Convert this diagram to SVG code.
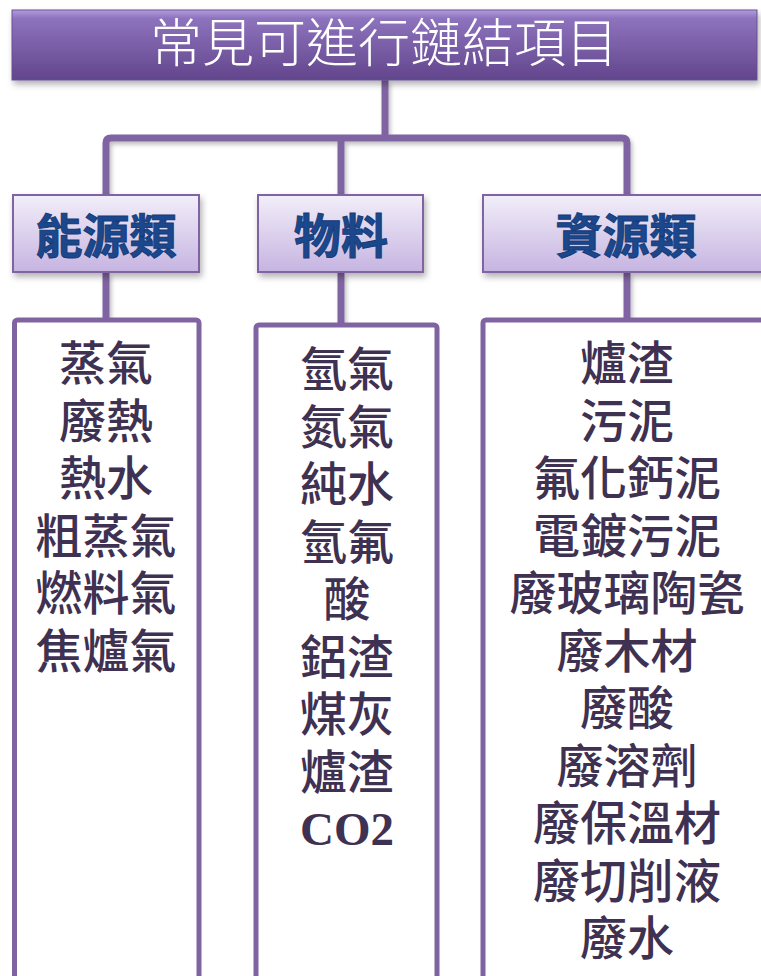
<svg xmlns="http://www.w3.org/2000/svg" width="761" height="976" viewBox="0 0 761 976">
<defs>
  <linearGradient id="gTitle" x1="0" y1="0" x2="0" y2="1">
    <stop offset="0" stop-color="#b29de0"/>
    <stop offset="0.12" stop-color="#8d73bd"/>
    <stop offset="1" stop-color="#62458c"/>
  </linearGradient>
  <linearGradient id="gCat" x1="0" y1="0" x2="0" y2="1">
    <stop offset="0" stop-color="#f2eef9"/>
    <stop offset="1" stop-color="#c6b4e1"/>
  </linearGradient>
  <filter id="sh" x="-10%" y="-10%" width="120%" height="140%">
    <feDropShadow dx="2" dy="4" stdDeviation="3" flood-color="#000" flood-opacity="0.3"/>
  </filter>
  <filter id="shl" x="-20%" y="-20%" width="140%" height="140%">
    <feDropShadow dx="2" dy="3" stdDeviation="2" flood-color="#000" flood-opacity="0.25"/>
  </filter>
</defs>
<style>
  .conn { fill: none; stroke: #8064a2; stroke-width: 7; stroke-linejoin: round; }
  .cat { fill: url(#gCat); stroke: #8064a2; stroke-width: 2; }
  .catText { font-family: "Noto Sans CJK TC", "Noto Sans CJK SC", sans-serif; font-weight: 700; font-size: 47px; fill: #1b478d; stroke: #163c78; stroke-width: 1; text-anchor: middle; }
  .box { fill: #ffffff; stroke: #8064a2; stroke-width: 5; }
  .item { font-family: "Noto Sans CJK TC", "Noto Sans CJK SC", sans-serif; font-weight: 500; font-size: 47px; fill: #3f3151; text-anchor: middle; }
  .latin { font-family: "Liberation Serif", "Times New Roman", serif; font-weight: 700; font-size: 47px; fill: #3f3151; text-anchor: middle; }
</style>

<g id="connectors" filter="url(#shl)">
  <path class="conn" d="M385,80 V138"/>
  <path class="conn" d="M106,195 V143 Q106,138 111,138 H622 Q627,138 627,143 V195"/>
  <path class="conn" d="M341,138 V195"/>
  <path class="conn" d="M106,273 V320"/>
  <path class="conn" d="M341,273 V325"/>
  <path class="conn" d="M627,273 V320"/>
</g>

<g id="title">
  <rect x="12" y="10" width="745" height="70" fill="url(#gTitle)" stroke="#6a4f96" stroke-width="1" filter="url(#sh)"/>
  <text x="384" y="62" font-family="Noto Sans CJK TC, Noto Sans CJK SC, sans-serif" font-weight="300" font-size="52" fill="#ffffff" text-anchor="middle">常見可進行鏈結項目</text>
</g>

<g id="cat-energy">
  <rect class="cat" x="13" y="195" width="186" height="77" filter="url(#sh)"/>
  <text class="catText" x="106" y="253">能源類</text>
</g>
<g id="cat-material">
  <rect class="cat" x="258" y="195" width="165" height="77" filter="url(#sh)"/>
  <text class="catText" x="341" y="253">物料</text>
</g>
<g id="cat-resource">
  <rect class="cat" x="483" y="195" width="300" height="77" filter="url(#sh)"/>
  <text class="catText" x="626" y="253">資源類</text>
</g>

<g id="list-energy">
  <rect class="box" x="14.5" y="320" width="184.5" height="700" rx="3"/>
  <text class="item" x="106" y="380">蒸氣</text>
  <text class="item" x="106" y="437.5">廢熱</text>
  <text class="item" x="106" y="495">熱水</text>
  <text class="item" x="106" y="552.5">粗蒸氣</text>
  <text class="item" x="106" y="610">燃料氣</text>
  <text class="item" x="106" y="667.5">焦爐氣</text>
</g>

<g id="list-material">
  <rect class="box" x="256" y="325" width="181" height="700" rx="3"/>
  <text class="item" x="347" y="386">氫氣</text>
  <text class="item" x="347" y="443.5">氮氣</text>
  <text class="item" x="347" y="501">純水</text>
  <text class="item" x="347" y="558.5">氫氟</text>
  <text class="item" x="347" y="616">酸</text>
  <text class="item" x="347" y="673.5">鋁渣</text>
  <text class="item" x="347" y="731">煤灰</text>
  <text class="item" x="347" y="788.5">爐渣</text>
  <text class="latin" x="347" y="845">CO2</text>
</g>

<g id="list-resource">
  <rect class="box" x="483" y="320" width="300" height="700" rx="3"/>
  <text class="item" x="627" y="380">爐渣</text>
  <text class="item" x="627" y="437.5">污泥</text>
  <text class="item" x="627" y="495">氟化鈣泥</text>
  <text class="item" x="627" y="552.5">電鍍污泥</text>
  <text class="item" x="627" y="610">廢玻璃陶瓷</text>
  <text class="item" x="627" y="667.5">廢木材</text>
  <text class="item" x="627" y="725">廢酸</text>
  <text class="item" x="627" y="782.5">廢溶劑</text>
  <text class="item" x="627" y="840">廢保溫材</text>
  <text class="item" x="627" y="897.5">廢切削液</text>
  <text class="item" x="627" y="955">廢水</text>
</g>
</svg>
